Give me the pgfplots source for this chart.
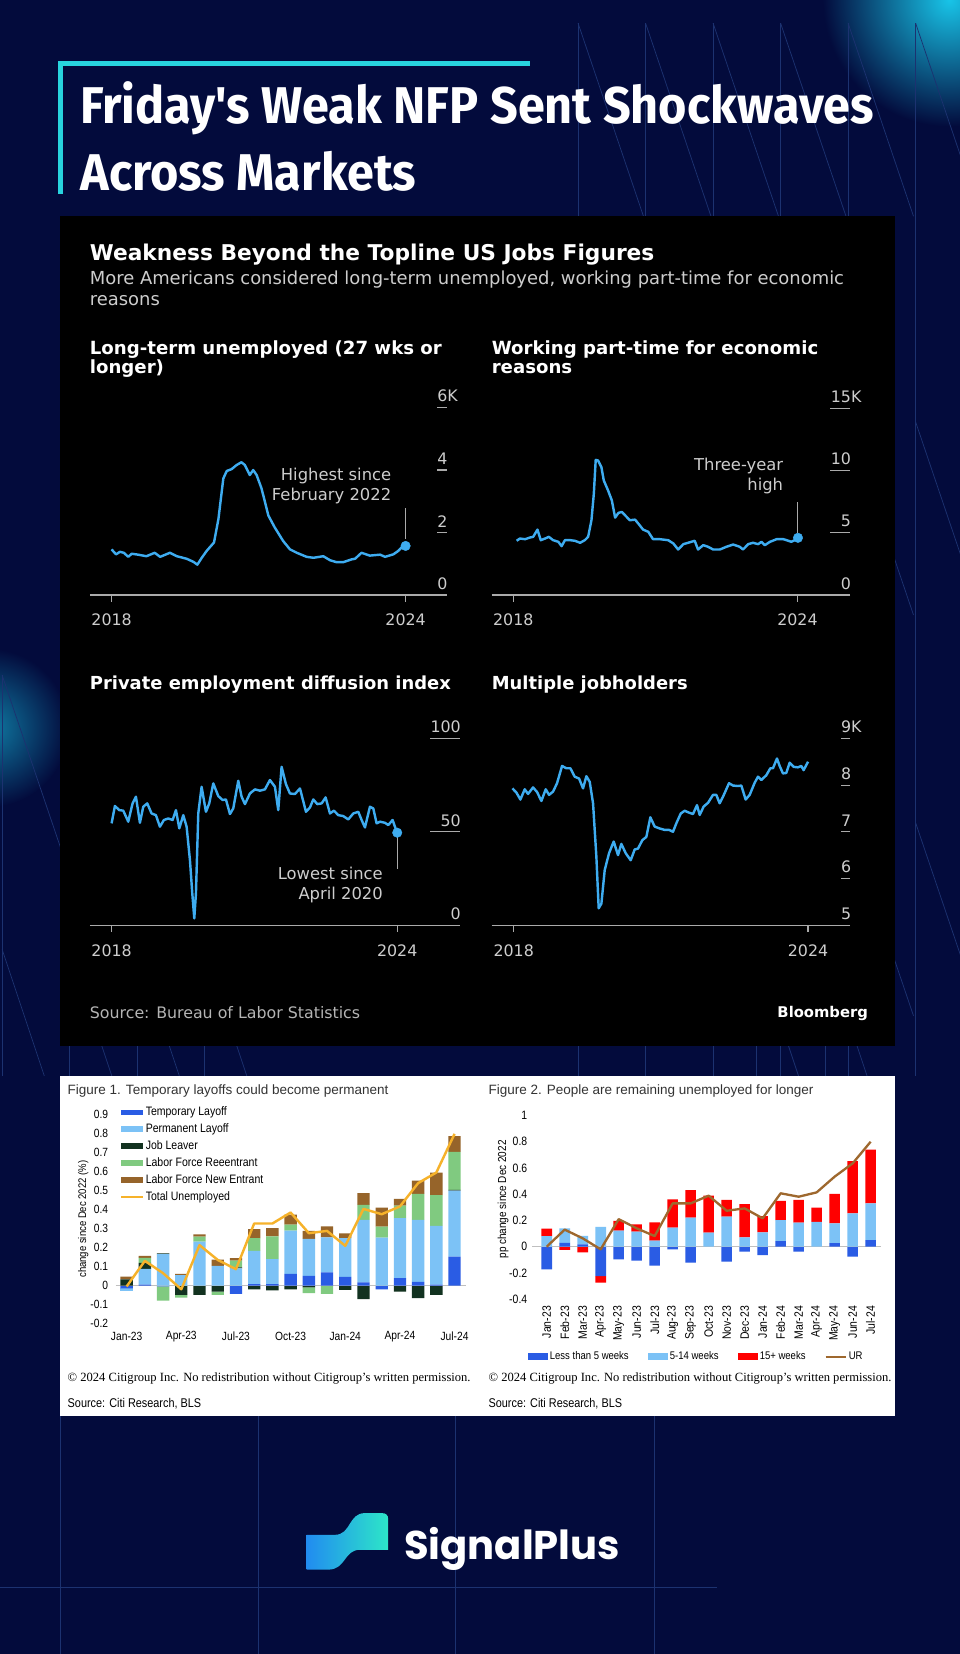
\documentclass[border=0pt]{standalone}
\usepackage{pgfplots}
\pgfplotsset{compat=1.18}
\usepackage{pgfplotstable}
\usepackage{fontspec}
\setmainfont{Liberation Sans}
\newfontfamily\titlefont[FakeStretch=0.94]{Fira Sans}
\newfontfamily\bbg{DejaVu Sans}
\newfontfamily\citi{Liberation Sans}
\newfontfamily\citin[FakeStretch=0.86]{Liberation Sans}
\newfontfamily\citiserif{Liberation Serif}
\newfontfamily\logofont{Poppins}

\newcommand{\fs}[2]{\fontsize{#1}{#2}\selectfont}

\definecolor{navy}{RGB}{3,11,60}
\definecolor{deco}{RGB}{28,50,112}
\definecolor{glow}{RGB}{24,196,232}
\definecolor{bracket}{RGB}{40,212,222}
\definecolor{bbline}{RGB}{62,172,240}
\definecolor{bbtext}{RGB}{205,205,205}
\definecolor{bbsrc}{RGB}{180,180,180}
\definecolor{bbaxis}{RGB}{170,170,170}
\definecolor{ctl}{RGB}{42,92,228}
\definecolor{cpl}{RGB}{124,194,246}
\definecolor{cjl}{RGB}{18,50,32}
\definecolor{cre}{RGB}{128,202,128}
\definecolor{cne}{RGB}{150,100,42}
\definecolor{ctot}{RGB}{246,178,42}
\definecolor{cred}{RGB}{255,0,0}
\definecolor{cur}{RGB}{158,104,46}
\definecolor{logoblue}{RGB}{33,140,240}
\definecolor{logocyan}{RGB}{45,230,200}

% long-term unemployed (millions)
\pgfplotstableread{
x y
2018.00 1.46
2018.09 1.30
2018.17 1.38
2018.25 1.35
2018.34 1.22
2018.41 1.32
2018.54 1.29
2018.71 1.24
2018.88 1.35
2018.99 1.22
2019.19 1.35
2019.33 1.24
2019.53 1.16
2019.67 1.06
2019.75 0.97
2019.84 1.19
2019.94 1.41
2020.09 1.68
2020.18 2.43
2020.28 3.73
2020.35 3.97
2020.45 4.03
2020.55 4.16
2020.65 4.25
2020.72 4.16
2020.82 3.84
2020.89 4.00
2020.96 3.84
2021.06 3.41
2021.20 2.54
2021.33 2.16
2021.50 1.73
2021.64 1.46
2021.78 1.35
2021.98 1.22
2022.12 1.19
2022.32 1.24
2022.46 1.11
2022.59 1.05
2022.73 1.05
2022.90 1.14
2022.97 1.16
2023.10 1.35
2023.27 1.26
2023.48 1.29
2023.58 1.22
2023.75 1.30
2023.85 1.41
2023.95 1.57
2024.00 1.57
}\ltu

% part-time for economic reasons (millions)
\pgfplotstableread{
x y
2018.07 4.35
2018.14 4.53
2018.25 4.48
2018.35 4.61
2018.42 4.67
2018.51 5.25
2018.58 4.40
2018.67 4.53
2018.75 4.67
2018.84 4.40
2018.95 4.27
2019.02 3.92
2019.09 4.40
2019.20 4.40
2019.30 4.35
2019.41 4.19
2019.51 4.40
2019.58 4.67
2019.65 6.00
2019.70 8.13
2019.74 10.85
2019.79 10.80
2019.86 10.27
2019.91 9.20
2020.00 8.40
2020.08 7.60
2020.15 6.21
2020.22 6.59
2020.29 6.67
2020.36 6.40
2020.46 6.00
2020.57 6.05
2020.64 5.73
2020.74 5.25
2020.85 5.07
2020.95 4.48
2021.09 4.48
2021.27 4.40
2021.38 4.13
2021.48 3.65
2021.59 4.08
2021.69 4.19
2021.83 4.35
2021.90 3.65
2022.01 4.00
2022.11 3.87
2022.22 3.65
2022.36 3.65
2022.50 3.87
2022.64 4.05
2022.78 3.87
2022.85 3.65
2022.96 4.08
2023.06 4.19
2023.17 4.08
2023.24 4.27
2023.31 4.00
2023.42 4.27
2023.56 4.48
2023.70 4.48
2023.77 4.40
2023.87 4.27
2023.94 4.40
2024.01 4.59
}\ptime

% private employment diffusion index
\pgfplotstableread{
x y
2018.000 54.5
2018.070 63.8
2018.161 61.6
2018.245 61.3
2018.350 55.4
2018.441 65.2
2018.511 68.8
2018.595 54.8
2018.665 63.4
2018.749 65.2
2018.840 59.8
2018.931 58.9
2019.015 52.7
2019.099 56.3
2019.190 57.1
2019.282 56.3
2019.352 61.6
2019.422 51.8
2019.506 58.9
2019.576 52.7
2019.646 34.8
2019.695 17.0
2019.737 3.6
2019.772 17.0
2019.821 59.8
2019.891 74.1
2019.982 60.7
2020.052 65.2
2020.136 75.9
2020.241 69.1
2020.332 67.0
2020.402 67.3
2020.486 59.5
2020.556 62.5
2020.661 77.3
2020.731 68.8
2020.801 64.8
2020.906 70.5
2021.011 72.7
2021.116 72.0
2021.221 72.7
2021.326 77.7
2021.431 74.1
2021.501 61.6
2021.571 84.8
2021.662 75.5
2021.746 70.5
2021.852 70.2
2021.957 73.2
2022.083 60.7
2022.167 63.0
2022.237 67.3
2022.321 64.8
2022.412 65.2
2022.496 68.4
2022.587 59.8
2022.671 61.3
2022.762 58.9
2022.867 58.4
2022.972 56.6
2023.077 59.8
2023.182 60.7
2023.252 56.3
2023.322 52.3
2023.427 63.4
2023.497 62.5
2023.567 54.5
2023.637 55.4
2023.742 54.8
2023.812 53.6
2023.903 56.3
2023.952 52.7
2024.000 49.5
}\diffu

% multiple jobholders (millions)
\pgfplotstableread{
x y
2017.973 7.93
2018.054 7.84
2018.136 7.69
2018.224 7.91
2018.292 7.81
2018.394 7.95
2018.476 7.85
2018.564 7.66
2018.652 7.91
2018.720 7.79
2018.802 7.86
2018.883 8.04
2018.985 8.41
2019.073 8.36
2019.155 8.36
2019.243 8.18
2019.332 8.14
2019.413 7.93
2019.481 8.19
2019.549 8.07
2019.617 7.61
2019.685 6.46
2019.732 5.36
2019.787 5.46
2019.855 6.18
2019.943 6.54
2020.038 6.79
2020.126 6.50
2020.194 6.74
2020.283 6.54
2020.385 6.39
2020.466 6.62
2020.534 6.64
2020.622 6.82
2020.704 6.89
2020.785 7.31
2020.874 7.11
2020.976 7.07
2021.077 7.04
2021.166 7.04
2021.247 7.00
2021.315 7.18
2021.404 7.39
2021.485 7.45
2021.573 7.41
2021.655 7.38
2021.736 7.57
2021.791 7.36
2021.872 7.54
2021.961 7.62
2022.063 7.79
2022.130 7.79
2022.198 7.61
2022.266 7.75
2022.389 8.04
2022.470 7.99
2022.572 7.98
2022.640 7.99
2022.728 7.69
2022.810 7.79
2022.912 8.05
2022.980 8.18
2023.048 8.11
2023.149 8.21
2023.231 8.36
2023.285 8.36
2023.367 8.57
2023.421 8.41
2023.489 8.25
2023.557 8.26
2023.625 8.48
2023.707 8.39
2023.795 8.38
2023.863 8.41
2023.910 8.32
2024.000 8.50
}\multi

% Citi figure 1: change since Dec 2022 by reason
\pgfplotstableread{
m tl pl jl re ne tot
0 -0.015 -0.012 0.033 0 0.014 -0.005
1 0.005 0.083 0.032 0.026 0.010 0.130
2 -0.005 0.165 0.004 -0.075 0 0.065
3 0 0.055 -0.050 -0.014 0.007 -0.020
4 0 0.232 -0.050 0.026 0.012 0.213
5 0 0.104 -0.032 -0.018 0.032 0.135
6 -0.044 0.090 0.006 0.035 0.014 0.086
7 0.007 0.176 -0.020 0.067 0.047 0.327
8 0.007 0.132 -0.026 0.120 0.044 0.327
9 0.062 0.227 -0.020 0.032 0.053 0.385
10 0.051 0.195 -0.010 -0.030 0.042 0.276
11 0.069 0.185 0 -0.044 0.058 0.288
12 0.046 0.204 -0.023 0 0.025 0.209
13 0.016 0.330 -0.072 0.079 0.062 0.404
14 -0.020 0.253 0 0.058 0.100 0.376
15 0.039 0.316 -0.032 0.067 0.035 0.417
16 0.019 0.327 -0.067 0.137 0.070 0.540
17 0.005 0.310 -0.049 0.162 0.118 0.596
18 0.153 0.348 0.004 0.200 0.083 0.800
}\figone

% Citi figure 2: change since Dec 2022 by duration
\pgfplotstableread{
m lt mid lg ur
0 -0.173 0.081 0.056 0.000
1 0.030 0.109 -0.025 0.130
2 0.018 0.064 -0.043 0.064
3 -0.224 0.152 -0.050 -0.020
4 -0.097 0.122 0.074 0.210
5 -0.107 0.114 0.056 0.140
6 -0.145 0.046 0.140 0.081
7 -0.020 0.145 0.216 0.330
8 -0.122 0.221 0.211 0.330
9 0.000 0.107 0.282 0.389
10 -0.114 0.229 0.127 0.274
11 -0.038 0.071 0.254 0.292
12 -0.064 0.109 0.125 0.216
13 0.043 0.160 0.147 0.407
14 -0.038 0.183 0.173 0.381
15 0.000 0.190 0.107 0.414
16 0.028 0.150 0.224 0.534
17 -0.076 0.254 0.399 0.635
18 0.050 0.280 0.410 0.800
}\figtwo

\tikzset{
  bbnote/.style={font=\bbg\fs{15.5}{19}, text=bbtext, align=right, inner sep=0pt},
}
\pgfplotsset{
  bbpanel/.style={
    scale only axis, anchor=south west, clip=false,
    axis x line*=bottom, axis y line*=right, tick align=inside,
    x axis line style={draw=bbaxis, line width=1.1pt},
    y axis line style={draw=none},
    xtick={2018,2024}, xticklabels={2018,2024},
    xtick style={draw=none},
    ytick style={draw=bbaxis, line width=1.1pt},
    tick label style={font=\bbg\fs{15}{15}, text=bbtext},
    yticklabel style={anchor=south east, inner sep=0pt, xshift=1pt, yshift=5pt},
    xticklabel style={anchor=north, inner sep=0pt, yshift=-18pt},
  },
  bbplot/.style={color=bbline, line width=2.3pt, line join=round, mark=none},
  citibase/.style={scale only axis, anchor=south west, clip=false,
    axis line style={draw=none}, tick style={draw=none}},
  fig1geom/.style={citibase, at={(109.7pt,-1254.6pt)}, width=331.6pt, height=197.7pt,
    xmin=-0.6, xmax=18.6, ymin=-0.2, ymax=0.9},
  fig2geom/.style={citibase, at={(504.6pt,-1231.6pt)}, width=331pt, height=174.1pt,
    xmin=-0.8, xmax=18.6, ymin=-0.4, ymax=1},
}

\begin{document}
\begin{tikzpicture}[x=1pt,y=1pt]
\useasboundingbox (0,0) rectangle (910,-1568);
\fill[navy] (0,0) rectangle (910,-1568);

% glows
\shade[inner color=glow, outer color=navy] (900,0) circle (120);
\shade[inner color=glow!60!navy, outer color=navy] (-10,-690) circle (75);

% background line pattern
\foreach \x in {548,612,676,740,804,868}{
  \draw[deco, line width=0.7pt] (\x,-22) -- (\x,-1020);
  \draw[deco, line width=0.7pt] (\x,-22) -- (\x+62,-205);
  \draw[deco, line width=0.7pt] (\x,-400) -- (\x+62,-583);
  \draw[deco, line width=0.7pt] (\x,-780) -- (\x+62,-963);
}
\foreach \x in {2,66,130,194,717,782}{
  \draw[deco, line width=0.7pt] (\x,-640) -- (\x,-1020);
  \draw[deco, line width=0.7pt] (\x,-640) -- (\x+62,-823);
  \draw[deco, line width=0.7pt] (\x,-900) -- (\x+40,-1020);
}
\draw[deco, line width=0.7pt] (0,-1505) -- (680,-1505);
\foreach \x in {57,245,432,620}{
  \draw[deco, line width=0.7pt] (\x,-1342) -- (\x,-1568);
}

% title block
\fill[bracket] (55,-58) rectangle (502,-63);
\fill[bracket] (55,-58) rectangle (59.5,-184);
\node[anchor=base west, inner sep=0pt, text=white, font=\titlefont\bfseries\fs{49}{49}] at (76,-117) {Friday's Weak NFP Sent Shockwaves};
\node[anchor=base west, inner sep=0pt, text=white, font=\titlefont\bfseries\fs{49}{49}] at (76,-181) {Across Markets};

% Bloomberg panel
\fill[black] (57,-205) rectangle (848,-992);
\node[anchor=base west, inner sep=0pt, text=white, font=\bbg\bfseries\fs{20.6}{20.6}] at (85,-247) {Weakness Beyond the Topline US Jobs Figures};
\node[anchor=base west, inner sep=0pt, text=bbtext, font=\bbg\fs{17}{17}] at (85,-270) {More Americans considered long-term unemployed, working part-time for economic};
\node[anchor=base west, inner sep=0pt, text=bbtext, font=\bbg\fs{17}{17}] at (85,-290) {reasons};
\node[anchor=base west, inner sep=0pt, text=white, font=\bbg\bfseries\fs{17.2}{17.2}] at (85,-336) {Long-term unemployed (27 wks or};
\node[anchor=base west, inner sep=0pt, text=white, font=\bbg\bfseries\fs{17.2}{17.2}] at (85,-354) {longer)};
\node[anchor=base west, inner sep=0pt, text=white, font=\bbg\bfseries\fs{17.2}{17.2}] at (466,-336) {Working part-time for economic};
\node[anchor=base west, inner sep=0pt, text=white, font=\bbg\bfseries\fs{17.2}{17.2}] at (466,-354) {reasons};
\node[anchor=base west, inner sep=0pt, text=white, font=\bbg\bfseries\fs{17}{17}] at (85,-654) {Private employment diffusion index};
\node[anchor=base west, inner sep=0pt, text=white, font=\bbg\bfseries\fs{17}{17}] at (466,-654) {Multiple jobholders};
\node[anchor=base west, inner sep=0pt, text=bbsrc, font=\bbg\fs{15}{15}] at (85,-966) {Source: Bureau of Labor Statistics};
\node[anchor=base east, inner sep=0pt, text=white, font=\bbg\bfseries\fs{14}{14}] at (823,-965) {Bloomberg};

% panel 1
\begin{axis}[bbpanel, at={(85.3pt,-564pt)}, width=338.1pt, height=177.6pt,
  xmin=2017.559, xmax=2024.837, ymin=0, ymax=6, major tick length=9pt,
  ytick={0,2,4,6}, yticklabels={0,2,4,6\rlap{K}}]
\addplot[bbplot] table {\ltu};
\addplot[only marks, mark=*, mark size=4.5pt, color=bbline] coordinates {(2024.00,1.57)};
\draw[bbaxis, line width=1.1pt] (axis cs:2024,1.8) -- (axis cs:2024,2.77);
\draw[bbaxis, line width=1.1pt] (axis cs:2018,0) -- ++(0pt,-7pt);
\draw[bbaxis, line width=1.1pt] (axis cs:2024,0) -- ++(0pt,-7pt);
\node[bbnote, anchor=east] at (axis cs:2023.71,3.5) {Highest since\\February 2022};
\end{axis}

% panel 2
\begin{axis}[bbpanel, at={(466pt,-564pt)}, width=340pt, height=177pt,
  xmin=2017.541, xmax=2025.113, ymin=0, ymax=15, major tick length=19pt,
  ytick={0,5,10,15}, yticklabels={0,5,10,15\rlap{K}}]
\addplot[bbplot] table {\ptime};
\addplot[only marks, mark=*, mark size=4.5pt, color=bbline] coordinates {(2024.01,4.59)};
\draw[bbaxis, line width=1.1pt] (axis cs:2024,5.0) -- (axis cs:2024,7.5);
\draw[bbaxis, line width=1.1pt] (axis cs:2018,0) -- ++(0pt,-7pt);
\draw[bbaxis, line width=1.1pt] (axis cs:2024,0) -- ++(0pt,-7pt);
\node[bbnote, anchor=east] at (axis cs:2023.70,9.58) {Three-year\\high};
\end{axis}

% panel 3
\begin{axis}[bbpanel, at={(85.3pt,-877pt)}, width=350.7pt, height=177pt,
  xmin=2017.546, xmax=2025.317, ymin=0, ymax=100, major tick length=28pt,
  ytick={0,50,100}, yticklabels={0,50,100}]
\addplot[bbplot] table {\diffu};
\addplot[only marks, mark=*, mark size=4.5pt, color=bbline] coordinates {(2024.00,49.5)};
\draw[bbaxis, line width=1.1pt] (axis cs:2024,47) -- (axis cs:2024,30);
\draw[bbaxis, line width=1.1pt] (axis cs:2018,0) -- ++(0pt,-7pt);
\draw[bbaxis, line width=1.1pt] (axis cs:2024,0) -- ++(0pt,-7pt);
\node[bbnote, anchor=east] at (axis cs:2023.70,21.5) {Lowest since\\April 2020};
\end{axis}

% panel 4
\begin{axis}[bbpanel, at={(466pt,-877pt)}, width=340pt, height=177pt,
  xmin=2017.548, xmax=2024.86, ymin=5, ymax=9, major tick length=9pt,
  ytick={5,6,7,8,9}, yticklabels={5,6,7,8,9\rlap{K}}]
\addplot[bbplot] table {\multi};
\draw[bbaxis, line width=1.1pt] (axis cs:2018,5) -- ++(0pt,-7pt);
\draw[bbaxis, line width=1.1pt] (axis cs:2024,5) -- ++(0pt,-7pt);
\end{axis}

% Citi panel
\fill[white] (57,-1020) rectangle (848,-1342);
\node[anchor=base west, inner sep=0pt, text=black!80, font=\citi\fs{12.8}{12.8}] at (64,-1038) {Figure 1. Temporary layoffs could become permanent};
\node[anchor=base west, inner sep=0pt, text=black!80, font=\citi\fs{12.8}{12.8}] at (463,-1038) {Figure 2. People are remaining unemployed for longer};
\node[anchor=base west, inner sep=0pt, text=black, font=\citiserif\fs{11.9}{11.9}] at (64,-1310) {© 2024 Citigroup Inc. No redistribution without Citigroup’s written permission.};
\node[anchor=base west, inner sep=0pt, text=black, font=\citiserif\fs{11.9}{11.9}] at (463,-1310) {© 2024 Citigroup Inc. No redistribution without Citigroup’s written permission.};
\node[anchor=base west, inner sep=0pt, text=black, font=\citin\fs{12}{12}] at (64,-1334) {Source: Citi Research, BLS};
\node[anchor=base west, inner sep=0pt, text=black, font=\citin\fs{12}{12}] at (463,-1334) {Source: Citi Research, BLS};

% figure 1: negative parts
\begin{axis}[fig1geom, hide axis, ybar stacked, bar width=11.7pt]
\draw[black!25, line width=0.6pt] (axis cs:-0.6,0) -- (axis cs:18.6,0);
\addplot[fill=ctl, draw=none] table[x=m, y expr={min(\thisrow{tl},0)}] {\figone};
\addplot[fill=cpl, draw=none] table[x=m, y expr={min(\thisrow{pl},0)}] {\figone};
\addplot[fill=cjl, draw=none] table[x=m, y expr={min(\thisrow{jl},0)}] {\figone};
\addplot[fill=cre, draw=none] table[x=m, y expr={min(\thisrow{re},0)}] {\figone};
\addplot[fill=cne, draw=none] table[x=m, y expr={min(\thisrow{ne},0)}] {\figone};
\end{axis}
% figure 1: positive parts, ticks, legend
\begin{axis}[fig1geom, ybar stacked, bar width=11.7pt,
  xtick={0,3,6,9,12,15,18},
  xticklabels={Jan-23,Apr-23,Jul-23,Oct-23,Jan-24,Apr-24,Jul-24},
  ytick={-0.2,-0.1,0,0.1,0.2,0.3,0.4,0.5,0.6,0.7,0.8,0.9},
  yticklabels={-0.2,-0.1,0,0.1,0.2,0.3,0.4,0.5,0.6,0.7,0.8,0.9},
  tick label style={font=\citin\fs{11.3}{11.3}, text=black},
  yticklabel style={anchor=east, inner sep=0pt, xshift=-7pt},
  xticklabel style={anchor=center, inner sep=0pt, yshift=-12.5pt},
  ylabel={change since Dec 2022 (\%)},
  every axis y label/.style={at={(axis description cs:-0.0926,0.5)}, rotate=90, anchor=center, font=\citin\fs{10.5}{10.5}},
  legend image code/.code={\fill[#1] (0pt,-2.8pt) rectangle (21pt,2.8pt);},
  legend style={at={(0.012,1.044)}, anchor=north west, draw=none, fill=none, inner sep=0pt,
    font=\citin\fs{11.6}{11.6}, row sep=3.5pt,
    nodes={inner sep=1pt, text height=8.5pt, text depth=2pt}},
  legend cell align=left]
\addplot[fill=ctl, draw=none] table[x=m, y expr={max(\thisrow{tl},0)}] {\figone};
\addlegendentry{Temporary Layoff}
\addplot[fill=cpl, draw=none] table[x=m, y expr={max(\thisrow{pl},0)}] {\figone};
\addlegendentry{Permanent Layoff}
\addplot[fill=cjl, draw=none] table[x=m, y expr={max(\thisrow{jl},0)}] {\figone};
\addlegendentry{Job Leaver}
\addplot[fill=cre, draw=none] table[x=m, y expr={max(\thisrow{re},0)}] {\figone};
\addlegendentry{Labor Force Reeentrant}
\addplot[fill=cne, draw=none] table[x=m, y expr={max(\thisrow{ne},0)}] {\figone};
\addlegendentry{Labor Force New Entrant}
\addlegendimage{legend image code/.code={\draw[ctot, line width=2.3pt] (0pt,0pt) -- (21pt,0pt);}}
\addlegendentry{Total Unemployed}
\end{axis}
% figure 1: total line
\begin{axis}[fig1geom, hide axis]
\addplot[ctot, line width=2.3pt, line join=round, mark=none] table[x=m, y=tot] {\figone};
\end{axis}

% figure 2: negative parts
\begin{axis}[fig2geom, hide axis, ybar stacked, bar width=10.1pt]
\draw[black!25, line width=0.6pt] (axis cs:-0.8,0) -- (axis cs:18.6,0);
\addplot[fill=ctl, draw=none] table[x=m, y expr={min(\thisrow{lt},0)}] {\figtwo};
\addplot[fill=cpl, draw=none] table[x=m, y expr={min(\thisrow{mid},0)}] {\figtwo};
\addplot[fill=cred, draw=none] table[x=m, y expr={min(\thisrow{lg},0)}] {\figtwo};
\end{axis}
% figure 2: positive parts, ticks, legend
\begin{axis}[fig2geom, ybar stacked, bar width=10.1pt,
  xtick={0,1,2,3,4,5,6,7,8,9,10,11,12,13,14,15,16,17,18},
  xticklabels={Jan-23,Feb-23,Mar-23,Apr-23,May-23,Jun-23,Jul-23,Aug-23,Sep-23,Oct-23,Nov-23,Dec-23,Jan-24,Feb-24,Mar-24,Apr-24,May-24,Jun-24,Jul-24},
  ytick={-0.4,-0.2,0,0.2,0.4,0.6,0.8,1},
  yticklabels={-0.4,-0.2,0,0.2,0.4,0.6,0.8,1},
  tick label style={font=\citin\fs{11.5}{11.5}, text=black},
  yticklabel style={anchor=east, inner sep=0pt, xshift=-4.6pt},
  xticklabel style={yshift=-6.4pt, rotate=90, anchor=east, inner sep=0pt},
  ylabel={pp change since Dec 2022},
  every axis y label/.style={at={(axis description cs:-0.0834,0.543)}, rotate=90, anchor=center, font=\citin\fs{11}{11}},
  legend image code/.code={\fill[#1] (0pt,-3.5pt) rectangle (19pt,3.5pt);},
  legend columns=4,
  legend style={at={(0.4695,-0.3125)}, anchor=center, draw=none, fill=none, inner sep=0pt,
    font=\citin\fs{10.5}{10.5}, /tikz/every even column/.append style={column sep=16pt}},
  legend cell align=left]
\addplot[fill=ctl, draw=none] table[x=m, y expr={max(\thisrow{lt},0)}] {\figtwo};
\addlegendentry{Less than 5 weeks}
\addplot[fill=cpl, draw=none] table[x=m, y expr={max(\thisrow{mid},0)}] {\figtwo};
\addlegendentry{5-14 weeks}
\addplot[fill=cred, draw=none] table[x=m, y expr={max(\thisrow{lg},0)}] {\figtwo};
\addlegendentry{15+ weeks}
\addlegendimage{legend image code/.code={\draw[cur, line width=2pt] (0pt,0pt) -- (19pt,0pt);}}
\addlegendentry{UR}
\end{axis}
% figure 2: UR line
\begin{axis}[fig2geom, hide axis]
\addplot[cur, line width=2.2pt, line join=round, mark=none] table[x=m, y=ur] {\figtwo};
\end{axis}

% SignalPlus logo
\shade[left color=logoblue, right color=logocyan]
  (290.7,-1455) -- (317.5,-1455)
  .. controls (333,-1455) and (330,-1434.4) .. (346,-1434.4) -- (362,-1434.4)
  .. controls (366,-1434.4) and (368,-1436.5) .. (368,-1440)
  -- (368,-1469.2) -- (341.2,-1469.2)
  .. controls (326,-1469.2) and (328,-1488) .. (311.2,-1488)
  -- (290.7,-1488) -- cycle;
\node[anchor=base west, inner sep=0pt, text=white, font=\logofont\bfseries\fs{38}{38}] at (383,-1478) {SignalPlus};
\end{tikzpicture}
\end{document}
